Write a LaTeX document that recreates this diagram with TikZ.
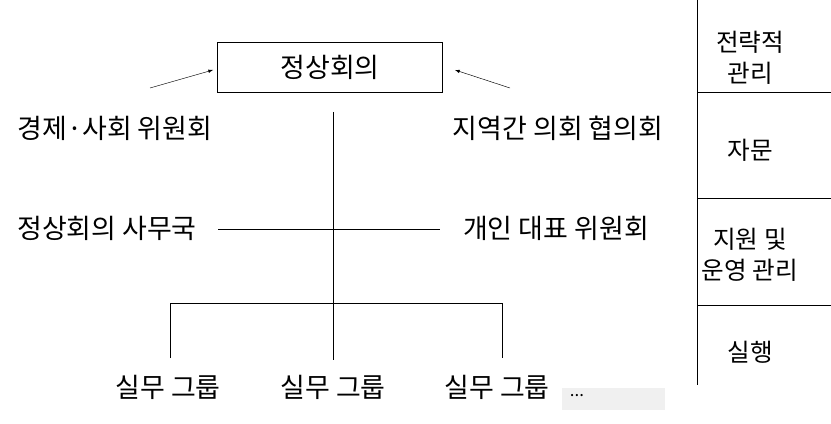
\documentclass[tikz,border=0pt]{standalone}
\usepackage{fontspec}
\setmainfont{Noto Sans CJK KR}
\usetikzlibrary{positioning}
\tikzset{
	lbl/.style={font=\fontsize{23}{27}\selectfont, inner sep=0pt},
	side/.style={font=\fontsize{21}{26}\selectfont, inner sep=0pt, align=center},
}
\begin{document}
\begin{tikzpicture}[x=0.03cm,y=-0.03cm]
	\useasboundingbox (0,0) rectangle (831,424);
	% summit box
	\node[lbl, draw, minimum width=225*0.03cm, minimum height=50*0.03cm] (summit) at (330,67) {정상회의};
	\node[lbl] (ecosoc) at (115,128) {경제·사회 위원회};
	\node[lbl] (interparl) at (558,128) {지역간 의회 협의회};
	\node[lbl] (secr) at (107,228) {정상회의 사무국};
	\node[lbl] (perrep) at (556,228) {개인 대표 위원회};
	\node[lbl] (wg1) at (168,387) {실무 그룹};
	\node[lbl] (wg2) at (333,387) {실무 그룹};
	\node[lbl] (wg3) at (497,387) {실무 그룹};
	\node[fill=black!6, minimum width=103*0.03cm, minimum height=22*0.03cm, inner sep=0pt] (more) at (613,399) {};
	\node[font=\Large, inner sep=0pt] (dots) at (577,396) {...};
	\coordinate (ax) at (150,88);
	\coordinate (bx) at (510,88);
	\draw[-latex] (ax) -- (213,70);
	\draw[-latex] (bx) -- (455,70);
	% trunk
	\coordinate (top) at (333,112);
	\draw (top) -- (333,360);
	\draw (218,229) -- (440,229);
	\draw (170,358) -- (170,303) -- (502,303) -- (502,358);
	% levels
	\draw (697,0) -- (697,385);
	\foreach \yy in {92,198,305} \draw (697,\yy) -- (831,\yy);
	\node[side] (l1) at (750,58) {전략적\\관리};
	\node[side] (l2) at (750,150) {자문};
	\node[side] (l3) at (750,255) {지원 및\\운영 관리};
	\node[side] (l4) at (750,352) {실행};
\end{tikzpicture}
\end{document}
